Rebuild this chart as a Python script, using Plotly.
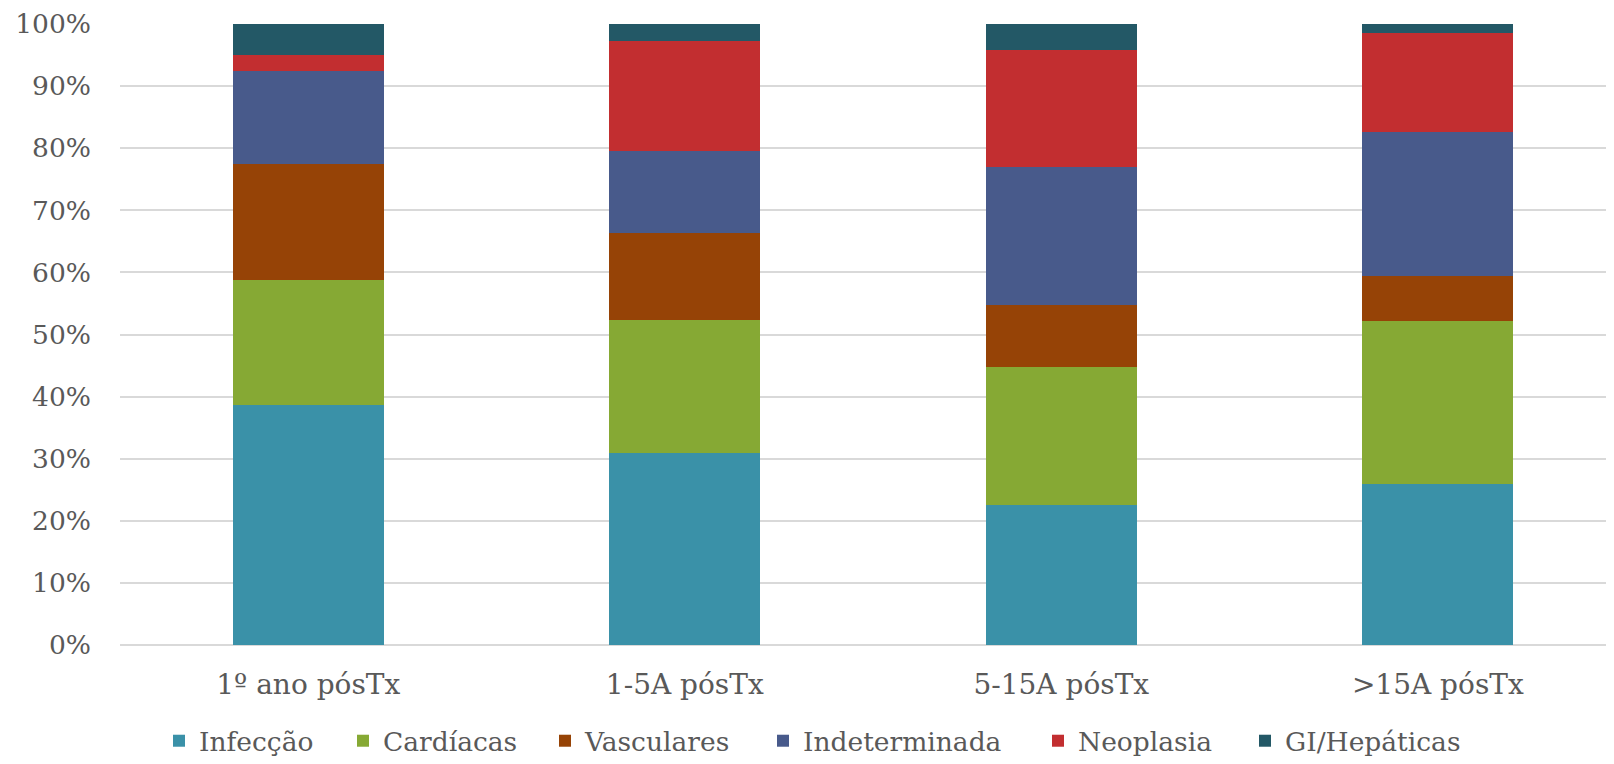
import plotly.graph_objects as go

categories = ["1º ano pósTx", "1-5A pósTx", "5-15A pósTx", ">15A pósTx"]
infeccao = [38.7, 30.9, 22.6, 26.0]
cardiacas = [20.05, 21.5, 22.1, 26.2]
vasculares = [18.75, 14.0, 10.1, 7.2]
indeterminada = [15.0, 13.1, 22.1, 23.2]
neoplasia = [2.5, 17.7, 18.9, 16.0]
gi_hepaticas = [5.0, 2.8, 4.2, 1.4]

series = [
    ("Infecção", infeccao, "#3A91A8"),
    ("Cardíacas", cardiacas, "#86A934"),
    ("Vasculares", vasculares, "#964306"),
    ("Indeterminada", indeterminada, "#485A8B"),
    ("Neoplasia", neoplasia, "#C22E30"),
    ("GI/Hepáticas", gi_hepaticas, "#235866"),
]

FONT = "DejaVu Serif"
GREY = "#595959"
# figure sits inside the page body (8px default margin)
W, H = 1606, 748
L, R, T, B = 112, 0, 16, 111
PW = W - L - R
PH = H - T - B

# legend box left edges (figure px)
legend_px = [151, 335, 537, 755, 1030, 1237]
legend_y_px = 733

fig = go.Figure()
layout_legends = {}
for i, (name, vals, col) in enumerate(series):
    key = "legend" if i == 0 else f"legend{i+1}"
    fig.add_trace(go.Bar(
        name=name, x=categories, y=vals,
        marker=dict(color=col, line=dict(width=0)),
        legend=key, showlegend=True,
    ))
    layout_legends[key] = dict(
        x=(legend_px[i] - L) / PW, xanchor="left",
        y=-(legend_y_px - (T + PH)) / PH, yanchor="middle",
        orientation="h", font=dict(size=26.5, color=GREY),
        bgcolor="rgba(0,0,0,0)", borderwidth=0,
    )

fig.update_layout(
    showlegend=True,
    barmode="stack",
    bargap=0.599,
    width=W, height=H,
    paper_bgcolor="white", plot_bgcolor="white",
    margin=dict(l=L, r=R, t=T, b=B, autoexpand=False),
    font=dict(family=FONT, color=GREY, size=27),
    xaxis=dict(showgrid=False, showline=False, ticks="", automargin=False,
               range=[-0.5, 3.468],
               tickfont=dict(size=28, color=GREY), ticklabelstandoff=20),
    yaxis=dict(range=[0, 100], dtick=10, ticksuffix="%", showgrid=True, automargin=False,
               gridcolor="#D9D9D9", gridwidth=1.5, zeroline=True, zerolinecolor="#D9D9D9",
               zerolinewidth=1.5, showline=False, ticks="", ticklabelstandoff=28,
               tickfont=dict(size=26.5, color=GREY)),
    **layout_legends,
)

fig.write_html("out.html")
